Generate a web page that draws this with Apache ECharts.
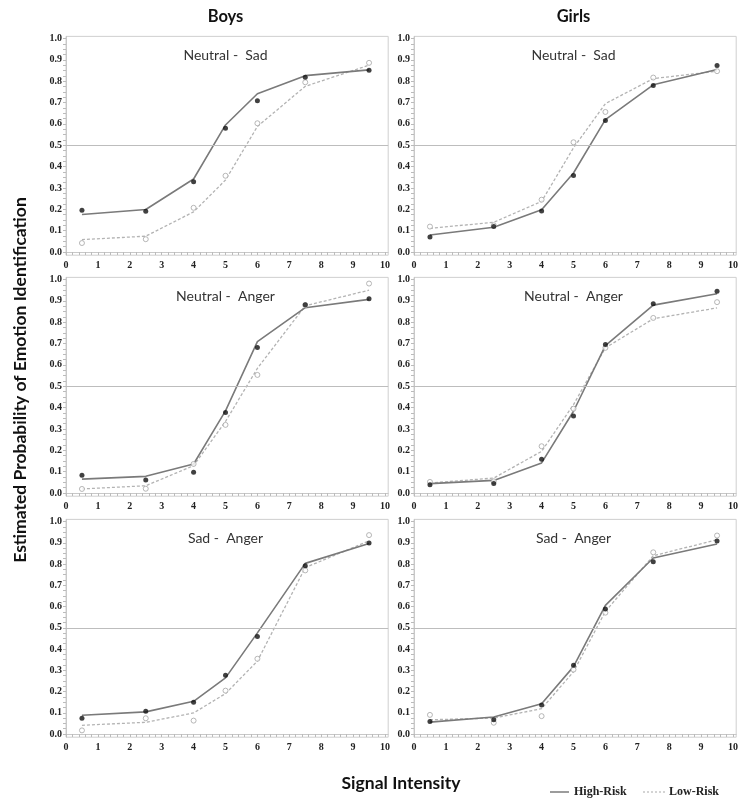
<!DOCTYPE html>
<html><head><meta charset="utf-8">
<script src="https://cdn.jsdelivr.net/npm/echarts@6/dist/echarts.min.js"></script>
<style>html,body{margin:0;padding:0;background:#fff}#c{width:750px;height:804px}</style>
</head><body><div id="c"></div>
<script>
// ---------- data ----------
const intensity = [0.5, 2.5, 4, 5, 6, 7.5, 9.5];
const xTickValues = [0, 1, 2, 3, 4, 5, 6, 7, 8, 9, 10];
const yTickValues = [0, 0.1, 0.2, 0.3, 0.4, 0.5, 0.6, 0.7, 0.8, 0.9, 1.0];
const groupTitles = ['Boys', 'Girls'];
const panelTitles = ['Neutral -  Sad', 'Neutral -  Anger', 'Sad -  Anger'];
const seriesNames = ['High-Risk', 'Low-Risk'];
const refLevel = 0.5;

// Boys, Neutral - Sad
const boysNeutralSadHighFit = [0.176, 0.199, 0.342, 0.595, 0.741, 0.826, 0.853];
const boysNeutralSadLowFit  = [0.058, 0.074, 0.188, 0.337, 0.588, 0.776, 0.875];
const boysNeutralSadHighObs = [0.196, 0.191, 0.329, 0.580, 0.708, 0.818, 0.851];
const boysNeutralSadLowObs  = [0.042, 0.060, 0.207, 0.357, 0.603, 0.795, 0.886];
// Girls, Neutral - Sad
const girlsNeutralSadHighFit = [0.080, 0.116, 0.198, 0.370, 0.620, 0.783, 0.855];
const girlsNeutralSadLowFit  = [0.111, 0.139, 0.237, 0.488, 0.695, 0.812, 0.847];
const girlsNeutralSadHighObs = [0.070, 0.120, 0.192, 0.358, 0.616, 0.780, 0.873];
const girlsNeutralSadLowObs  = [0.119, 0.125, 0.245, 0.514, 0.656, 0.817, 0.847];
// Boys, Neutral - Anger
const boysNeutralAngerHighFit = [0.065, 0.078, 0.136, 0.385, 0.709, 0.868, 0.907];
const boysNeutralAngerLowFit  = [0.019, 0.034, 0.128, 0.335, 0.584, 0.877, 0.950];
const boysNeutralAngerHighObs = [0.083, 0.061, 0.097, 0.377, 0.682, 0.882, 0.910];
const boysNeutralAngerLowObs  = [0.019, 0.020, 0.136, 0.319, 0.553, 0.880, 0.981];
// Girls, Neutral - Anger
const girlsNeutralAngerHighFit = [0.044, 0.059, 0.141, 0.383, 0.690, 0.880, 0.933];
const girlsNeutralAngerLowFit  = [0.047, 0.070, 0.195, 0.414, 0.680, 0.816, 0.867];
const girlsNeutralAngerHighObs = [0.039, 0.045, 0.158, 0.361, 0.695, 0.886, 0.945];
const girlsNeutralAngerLowObs  = [0.052, 0.055, 0.219, 0.395, 0.680, 0.820, 0.894];
// Boys, Sad - Anger
const boysSadAngerHighFit = [0.088, 0.104, 0.154, 0.264, 0.476, 0.803, 0.896];
const boysSadAngerLowFit  = [0.041, 0.055, 0.099, 0.190, 0.343, 0.783, 0.909];
const boysSadAngerHighObs = [0.074, 0.107, 0.149, 0.277, 0.459, 0.792, 0.899];
const boysSadAngerLowObs  = [0.017, 0.074, 0.063, 0.204, 0.354, 0.770, 0.936];
// Girls, Sad - Anger
const girlsSadAngerHighFit = [0.056, 0.080, 0.142, 0.317, 0.605, 0.828, 0.894];
const girlsSadAngerLowFit  = [0.067, 0.075, 0.119, 0.293, 0.577, 0.839, 0.914];
const girlsSadAngerHighObs = [0.059, 0.067, 0.137, 0.323, 0.588, 0.811, 0.908];
const girlsSadAngerLowObs  = [0.090, 0.053, 0.084, 0.303, 0.571, 0.855, 0.934];

// ---------- layout ----------
const panels = [
  [boysNeutralSadHighFit, boysNeutralSadLowFit, boysNeutralSadHighObs, boysNeutralSadLowObs],
  [girlsNeutralSadHighFit, girlsNeutralSadLowFit, girlsNeutralSadHighObs, girlsNeutralSadLowObs],
  [boysNeutralAngerHighFit, boysNeutralAngerLowFit, boysNeutralAngerHighObs, boysNeutralAngerLowObs],
  [girlsNeutralAngerHighFit, girlsNeutralAngerLowFit, girlsNeutralAngerHighObs, girlsNeutralAngerLowObs],
  [boysSadAngerHighFit, boysSadAngerLowFit, boysSadAngerHighObs, boysSadAngerLowObs],
  [girlsSadAngerHighFit, girlsSadAngerLowFit, girlsSadAngerHighObs, girlsSadAngerLowObs]
];
const colLeft = [66, 414];
const colUnit = 31.9;           // px per x unit
const rowY1 = [38.5, 279.5, 521.5]; // pixel of y=1.0
const rowY0 = [252, 493, 734];      // pixel of y=0.0
const xMin = 0, xMax = 10.1, yMin = -0.015, yMax = 1.01;

function range(a, b, s) { const r = []; for (let v = a; v <= b + 1e-9; v += s) r.push(+v.toFixed(4)); return r; }

const grids = [], xAxes = [], yAxes = [], series = [];
const labelFont = { fontFamily: 'Liberation Serif', fontWeight: 'bold', fontSize: 10, color: '#222' };

panels.forEach((p, i) => {
  const row = Math.floor(i / 2), col = i % 2;
  const unitY = rowY0[row] - rowY1[row];
  grids.push({
    left: colLeft[col], width: colUnit * (xMax - xMin),
    top: rowY1[row] - (yMax - 1) * unitY, height: unitY * (yMax - yMin),
    show: true, borderColor: '#cfcfcf', borderWidth: 1, backgroundColor: '#fff'
  });
  xAxes.push({
    gridIndex: i, type: 'value', min: xMin, max: xMax,
    axisLine: { show: true, lineStyle: { color: '#c8c8c8', width: 1 } },
    axisTick: { show: true, length: 3, customValues: range(0, 10, 0.2), lineStyle: { color: '#bbb' } },
    axisLabel: Object.assign({ show: true, margin: 5, customValues: xTickValues, formatter: v => String(Math.round(v)) }, labelFont),
    splitLine: { show: false }
  });
  yAxes.push({
    gridIndex: i, type: 'value', min: yMin, max: yMax,
    axisLine: { show: true, lineStyle: { color: '#c8c8c8', width: 1 } },
    axisTick: { show: true, length: 3, customValues: range(0, 1, 0.025), lineStyle: { color: '#bbb' } },
    axisLabel: Object.assign({ show: true, margin: 4, customValues: yTickValues, formatter: v => v.toFixed(1) }, labelFont),
    splitLine: { show: false }
  });
  const pts = arr => intensity.map((x, k) => [x, arr[k]]);
  series.push({
    type: 'line', name: seriesNames[0], xAxisIndex: i, yAxisIndex: i, data: pts(p[0]),
    symbol: 'none', lineStyle: { color: '#7a7a7a', width: 1.6 }, z: 3, silent: true,
    markLine: { silent: true, symbol: 'none', label: { show: false },
      lineStyle: { color: '#bdbdbd', width: 1.2, type: 'solid' }, data: [{ yAxis: refLevel }] }
  });
  series.push({
    type: 'line', name: seriesNames[1], xAxisIndex: i, yAxisIndex: i, data: pts(p[1]),
    symbol: 'none', lineStyle: { color: '#b3b3b3', width: 1.3, type: [3, 2] }, z: 2, silent: true
  });
  series.push({
    type: 'scatter', name: seriesNames[0] + ' obs', xAxisIndex: i, yAxisIndex: i, data: pts(p[2]),
    symbol: 'circle', symbolSize: 5, itemStyle: { color: '#111' }, z: 5, silent: true
  });
  series.push({
    type: 'scatter', name: seriesNames[1] + ' obs', xAxisIndex: i, yAxisIndex: i, data: pts(p[3]),
    symbol: 'circle', symbolSize: 5, itemStyle: { color: '#ffffff', borderColor: '#a5a5a5', borderWidth: 1 }, z: 4, silent: true
  });
});

// ---------- texts ----------
const graphics = [];
const titleFont = 'Lato';
groupTitles.forEach((t, c) => {
  graphics.push({ type: 'text', x: colLeft[c] + colUnit * 5, y: 17,
    style: { text: t, fontFamily: titleFont, fontWeight: 'bold', fontSize: 16.5, fill: '#111', align: 'center', verticalAlign: 'middle' } });
});
panels.forEach((p, i) => {
  const row = Math.floor(i / 2), col = i % 2;
  graphics.push({ type: 'text', x: colLeft[col] + colUnit * 5, y: rowY1[row] + 17,
    style: { text: panelTitles[row], fontFamily: titleFont, fontSize: 14, fill: '#333', align: 'center', verticalAlign: 'middle' } });
});
graphics.push({ type: 'text', x: 401, y: 783,
  style: { text: 'Signal Intensity', fontFamily: titleFont, fontWeight: 'bold', fontSize: 17.5, fill: '#111', align: 'center', verticalAlign: 'middle' } });
graphics.push({ type: 'text', x: 20, y: 380, rotation: Math.PI / 2,
  style: { text: 'Estimated Probability of Emotion Identification', fontFamily: titleFont, fontWeight: 'bold', fontSize: 17.5, fill: '#111', align: 'center', verticalAlign: 'middle' } });
// legend
graphics.push({ type: 'line', shape: { x1: 550, y1: 792, x2: 569, y2: 792 }, style: { stroke: '#666', lineWidth: 1.3 } });
graphics.push({ type: 'text', x: 574, y: 792,
  style: { text: seriesNames[0], fontFamily: 'Liberation Serif', fontWeight: 'bold', fontSize: 12, fill: '#222', align: 'left', verticalAlign: 'middle' } });
graphics.push({ type: 'line', shape: { x1: 643, y1: 792, x2: 666, y2: 792 }, style: { stroke: '#aaa', lineWidth: 1.1, lineDash: [2, 2] } });
graphics.push({ type: 'text', x: 669, y: 792,
  style: { text: seriesNames[1], fontFamily: 'Liberation Serif', fontWeight: 'bold', fontSize: 12, fill: '#222', align: 'left', verticalAlign: 'middle' } });

const chart = echarts.init(document.getElementById('c'), null, { renderer: 'canvas' });
chart.setOption({
  backgroundColor: '#fff',
  animation: false,
  grid: grids, xAxis: xAxes, yAxis: yAxes, series: series,
  graphic: graphics
});
</script></body></html>
